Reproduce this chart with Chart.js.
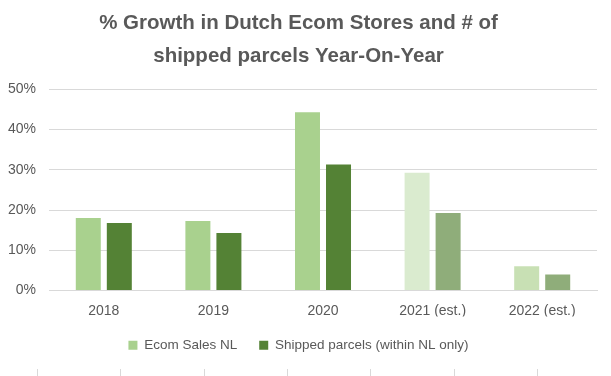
<!DOCTYPE html>
<html>
<head>
<meta charset="utf-8">
<script src="https://cdn.jsdelivr.net/npm/chart.js@4/dist/chart.umd.min.js"></script>
<style>
  html, body { margin: 0; padding: 0; background: #ffffff; }
  #wrap { width: 611px; height: 376px; }
</style>
</head>
<body>
<div id="wrap"><canvas id="c" width="611" height="376"></canvas></div>
<script>
// ---- Data ----
const titleLines = ['% Growth in Dutch Ecom Stores and # of', 'shipped parcels Year-On-Year'];
const categories = ['2018', '2019', '2020', '2021 (est.)', '2022 (est.)'];
const seriesNames = ['Ecom Sales NL', 'Shipped parcels (within NL only)'];
const ecomSales = [18.0, 17.3, 44.3, 29.3, 6.0];
const shippedParcels = [16.8, 14.3, 31.3, 19.3, 4.0];
const yTicks = [0, 10, 20, 30, 40, 50];

// ---- Styles ----
const ecomColors = ['#A9D18E', '#A9D18E', '#A9D18E', '#DAEBCF', '#C8E0B4'];
const shippedColors = ['#548235', '#548235', '#548235', '#8FAD7A', '#8FAD7A'];
const textColor = '#595959';
const gridColor = '#D9D9D9';
const fontFamily = '"Liberation Sans", Arial, sans-serif';

const decoTicks = {
  id: 'decoTicks',
  afterDraw(chart) {
    const ctx = chart.ctx;
    ctx.save();
    ctx.strokeStyle = '#D9D9D9';
    ctx.lineWidth = 1;
    [37, 120, 204, 287, 370, 454, 537].forEach(x => {
      ctx.beginPath();
      ctx.moveTo(x + 0.5, 369);
      ctx.lineTo(x + 0.5, 376);
      ctx.stroke();
    });
    ctx.restore();
  }
};

new Chart(document.getElementById('c'), {
  type: 'bar',
  data: {
    labels: categories,
    datasets: [
      { label: seriesNames[0], data: ecomSales, backgroundColor: ecomColors, borderWidth: 0 },
      { label: seriesNames[1], data: shippedParcels, backgroundColor: shippedColors, borderWidth: 0 }
    ]
  },
  options: {
    responsive: false,
    animation: false,
    devicePixelRatio: 1,
    layout: { padding: { left: 0, right: 14, top: 0, bottom: 14 } },
    datasets: { bar: { categoryPercentage: 0.566, barPercentage: 0.806 } },
    scales: {
      x: {
        afterFit(scale) { scale.height = 26; },
        grid: { display: false, drawTicks: false },
        border: { display: true, color: gridColor, width: 1 },
        ticks: { color: textColor, font: { family: fontFamily, size: 14 }, padding: 12 }
      },
      y: {
        min: 0, max: 50,
        afterFit(scale) { scale.width = 49; },
        afterBuildTicks(scale) { scale.ticks = yTicks.map(v => ({ value: v })); },
        grid: { color: gridColor, lineWidth: 1, drawTicks: false },
        border: { display: false },
        ticks: {
          color: textColor, font: { family: fontFamily, size: 14 }, padding: 13,
          callback: v => v + '%'
        }
      }
    },
    plugins: {
      title: {
        display: true,
        text: titleLines,
        color: textColor,
        font: { family: fontFamily, size: 20.5, weight: 'bold', lineHeight: 1.62 },
        padding: { top: 7, bottom: 16 }
      },
      legend: {
        position: 'bottom',
        labels: {
          color: textColor,
          font: { family: fontFamily, size: 13.5 },
          boxWidth: 9, boxHeight: 9, padding: 22,
          generateLabels(chart) {
            return chart.data.datasets.map((ds, i) => ({
              text: ds.label,
              fillStyle: i === 0 ? ecomColors[0] : shippedColors[0],
              strokeStyle: 'rgba(0,0,0,0)',
              lineWidth: 0,
              fontColor: textColor,
              hidden: false,
              datasetIndex: i
            }));
          }
        }
      },
      tooltip: { enabled: false }
    }
  },
  plugins: [decoTicks]
});
</script>
</body>
</html>
